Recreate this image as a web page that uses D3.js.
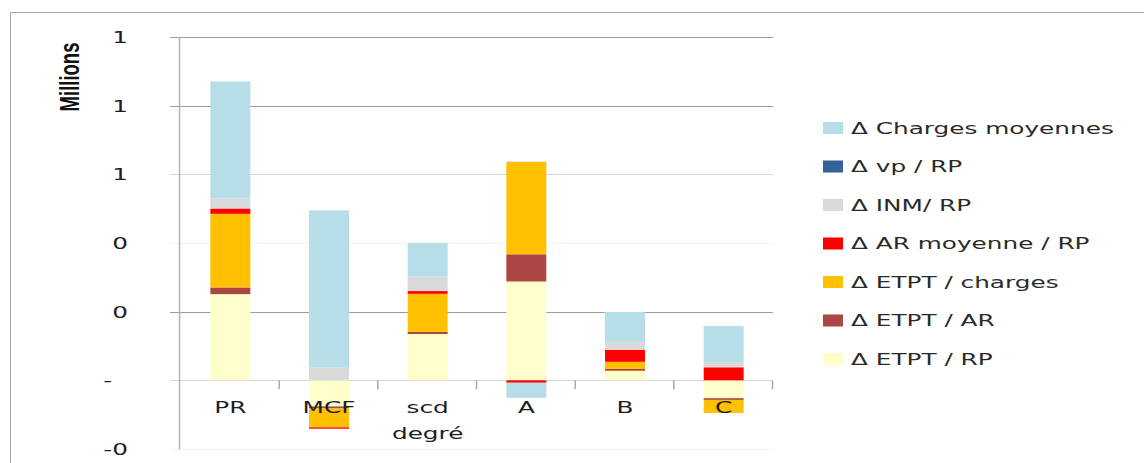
<!DOCTYPE html>
<html>
<head>
<meta charset="utf-8">
<script src="https://cdn.jsdelivr.net/npm/d3@7"></script>
<style>
  html, body { margin: 0; padding: 0; background: #ffffff; }
  svg { display: block; }
  text { font-family: "DejaVu Sans", Verdana, sans-serif; fill: #1e1e1e; }
</style>
</head>
<body>
<svg id="chart" width="1144" height="463"></svg>
<script>
// Categories and series (values in millions)
const categories = ["PR", "MCF", "scd degré", "A", "B", "C"];

// stacking order, from the bottom of each column upward
const seriesKeys = [
  "Δ ETPT / RP",
  "Δ ETPT / AR",
  "Δ ETPT / charges",
  "Δ AR moyenne / RP",
  "Δ INM/ RP",
  "Δ vp / RP",
  "Δ Charges moyennes"
];

const etptRP      = [0.251, -0.076, 0.135, 0.288, 0.028, -0.052];
const etptAR      = [0.0195, -0.006, 0.006, 0.079, 0.005, -0.005];
const etptCharges = [0.2145, -0.055, 0.111, 0.269, 0.021, -0.038];
const arMoyenne   = [0.0155, -0.004, 0.008, -0.007, 0.035, 0.038];
const inmRP       = [0.029, 0.037, 0.042, 0.002, 0.023, 0.015];
const vpRP        = [0, 0, 0, 0, 0, 0];
const chargesMoy  = [0.341, 0.458, 0.098, -0.044, 0.087, 0.105];

const seriesValues = [etptRP, etptAR, etptCharges, arMoyenne, inmRP, vpRP, chargesMoy];

// y axis ticks and their printed labels
const yTicks = [1.0, 0.8, 0.6, 0.4, 0.2, 0, -0.2];
const yTickLabels = ["1", "1", "1", "0", "0", "-\u2007", "-0"];

// colours
const seriesColors = ["#ffffcc", "#aa4643", "#ffc000", "#ff0000", "#d9d9d9", "#36609a", "#b7dee8"];
const gridTones = ["#9c9c9c", "#9c9c9c", "#d6d6d6", "#f1f1f1", "#9c9c9c", "#d6d6d6", "#f3f3f3"];

const svg = d3.select("#chart");
const SX = 1.5;            // horizontal stretch applied to all lettering
const FS = 16.5;

// outer frame
svg.append("rect")
  .attr("x", 10.5).attr("y", 12.5)
  .attr("width", 1300).attr("height", 600)
  .attr("fill", "none").attr("stroke", "#a6a6a6").attr("stroke-width", 1);

const plot = { axisX: 179, left: 181, right: 773, top: 37, bottom: 449 };

const y = d3.scaleLinear().domain([-0.2, 1.0]).range([plot.bottom, plot.top]);
const xStep = d3.scaleBand().domain(categories).range([plot.left, plot.right]).padding(0);
const x = d3.scaleBand().domain(categories).range([plot.left, plot.right])
  .paddingInner(0.595).paddingOuter(0.2975);

// gridlines with small left tick marks
svg.append("g").selectAll("line")
  .data(yTicks)
  .join("line")
  .attr("x1", plot.axisX - 9).attr("x2", plot.right)
  .attr("y1", d => Math.round(y(d)) + 0.5).attr("y2", d => Math.round(y(d)) + 0.5)
  .attr("stroke", (d, i) => gridTones[i]).attr("stroke-width", 1.2);

// vertical axis line
svg.append("line")
  .attr("x1", plot.axisX + 0.5).attr("x2", plot.axisX + 0.5)
  .attr("y1", plot.top).attr("y2", plot.bottom)
  .attr("stroke", "#b4b4b4").attr("stroke-width", 1.5);

// y tick labels
svg.append("g").selectAll("text")
  .data(yTicks)
  .join("text")
  .attr("transform", d => `translate(128,${y(d)}) scale(${SX},1)`)
  .attr("dy", "0.36em")
  .attr("text-anchor", "end")
  .style("font-size", FS + "px")
  .text((d, i) => yTickLabels[i]);

// axis title
svg.append("text")
  .attr("transform", `translate(69,77) scale(${SX},1) rotate(-90)`)
  .attr("dy", "0.35em")
  .attr("text-anchor", "middle")
  .style("font-family", "'Liberation Sans', Arial, sans-serif")
  .style("font-size", "18.5px")
  .style("font-weight", "bold")
  .style("fill", "#111")
  .text("Millions");

// stacked columns
const rows = categories.map((c, i) => {
  const r = { cat: c };
  seriesKeys.forEach((k, s) => { r[k] = seriesValues[s][i]; });
  return r;
});
const stacked = d3.stack().keys(seriesKeys).offset(d3.stackOffsetDiverging)(rows);

svg.append("g").selectAll("g")
  .data(stacked)
  .join("g")
  .attr("fill", (d, i) => seriesColors[i])
  .selectAll("rect")
  .data(d => d)
  .join("rect")
  .attr("x", d => x(d.data.cat))
  .attr("width", x.bandwidth())
  .attr("y", d => y(Math.max(d[0], d[1])))
  .attr("height", d => Math.abs(y(d[0]) - y(d[1])));

// category ticks below the zero line
svg.append("g").selectAll("line")
  .data(categories)
  .join("line")
  .attr("x1", d => xStep(d) + xStep.bandwidth() - 0.5)
  .attr("x2", d => xStep(d) + xStep.bandwidth() - 0.5)
  .attr("y1", y(0)).attr("y2", y(0) + 9)
  .attr("stroke", "#a8a8a8").attr("stroke-width", 1.5);

// category labels
const catLabels = svg.append("g").selectAll("text")
  .data(categories)
  .join("text")
  .attr("transform", d => `translate(${xStep(d) + xStep.bandwidth() / 2},413) scale(${SX},1)`)
  .attr("text-anchor", "middle")
  .style("font-size", FS + "px");
catLabels.each(function (d) {
  const words = d.split(" ");
  d3.select(this).selectAll("tspan")
    .data(words)
    .join("tspan")
    .attr("x", 0)
    .attr("dy", (w, i) => i === 0 ? 0 : 26)
    .text(w => w);
});

// legend, listed from the top of the stack down
const legendKeys = seriesKeys.slice().reverse();
const legendColors = seriesColors.slice().reverse();
const legend = svg.append("g").selectAll("g")
  .data(legendKeys)
  .join("g")
  .attr("transform", (d, i) => `translate(823,${128 + i * 38.5})`);
legend.append("rect")
  .attr("x", 0).attr("y", -6)
  .attr("width", 20).attr("height", 12)
  .attr("fill", (d, i) => legendColors[i]);
legend.append("text")
  .attr("transform", `translate(28,0) scale(${SX},1)`)
  .attr("dy", "0.36em")
  .style("font-size", FS + "px")
  .style("fill", "#2a2a2a")
  .text(d => d);
</script>
</body>
</html>
